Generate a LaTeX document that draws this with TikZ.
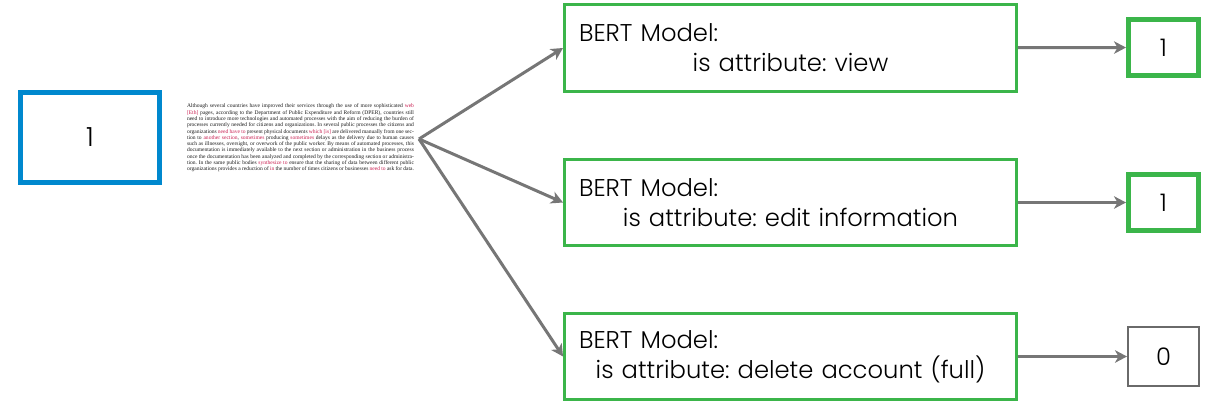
\documentclass[tikz,border=0pt]{standalone}
\usepackage{fontspec}
\setmainfont{Poppins}[UprightFont=* Light]
\newfontfamily\docfont{Liberation Serif}
\usetikzlibrary{arrows.meta}
\frenchspacing

\definecolor{boxgreen}{RGB}{59,181,74}
\definecolor{boxblue}{RGB}{0,136,206}
\definecolor{arrowgray}{RGB}{118,118,118}
\definecolor{markred}{RGB}{200,30,80}
\newcommand{\revword}[1]{\textcolor{markred}{#1}}

\begin{document}
\begin{tikzpicture}[x=0.02cm, y=-0.02cm,
    bertbox/.style={draw=boxgreen, line width=0.06cm, minimum width=9.04cm, minimum height=1.74cm,
        text width=8.46cm, inner xsep=0.29cm, align=center, font=\fontsize{13.8}{17}\selectfont},
    inbox/.style={draw=boxblue, line width=0.1cm, minimum width=2.78cm, minimum height=1.8cm,
        font=\fontsize{15}{17}\selectfont},
    resbox/.style={draw=boxgreen, line width=0.1cm, minimum width=1.4cm, minimum height=1.12cm,
        font=\fontsize{13.8}{17}\selectfont},
    doctext/.style={text width=4.54cm, inner sep=0pt, align=justify, text=black!90,
        font=\docfont\fontsize{3.15}{3.58}\selectfont},
    conn/.style={draw=arrowgray, line width=0.06cm, -{Stealth[length=0.24cm, width=0.25cm, inset=0.07cm]}}]

    \useasboundingbox (0,0) rectangle (1205,405);

    \node[inbox] (input) at (90,137.5) {1};

    \node[doctext] (doc) at (300.5,138) {Although several countries have improved their services through the use of more sophisticated \revword{web [Eth]} pages, according to the Department of Public Expenditure and Reform (DPER), countries still need to introduce more technologies and automated processes with the aim of reducing the burden of processes currently needed for citizens and organizations. In several public processes the citizens and organizations \revword{need have to} present physical documents \revword{which [is]} are delivered manually from one section to \revword{another section}, \revword{sometimes} producing \revword{sometimes} delays as the delivery due to human causes such as illnesses, oversight, or overwork of the public worker. By means of automated processes, this documentation is immediately available to the next section or administration in the business process once the documentation has been analyzed and completed by the corresponding section or administration. In the same public bodies \revword{synthesize to} ensure that the sharing of data between different public organizations provides a reduction of \revword{in} the number of times citizens or businesses \revword{need to} ask for data.};

    \coordinate (fork) at (419,139);

    %%%%%%%%%%%%%%%%%%%%%%%%%%%%%%%%%%%%%%%%%%%%%%%%%%%%%%

    \node[bertbox] (view) at (790.5,48) {\makebox[\linewidth][l]{BERT Model:}\\ is attribute: view};
    \node[bertbox] (edit) at (790.5,202.5) {\makebox[\linewidth][l]{BERT Model:}\\ is attribute: edit information};
    \node[bertbox] (delete) at (790.5,356.5) {\makebox[\linewidth][l]{BERT Model:}\\ is attribute: delete account (full)};

    %%%%%%%%%%%%%%%%%%%%%%%%%%%%%%%%%%%%%%%%%%%%%%%%%%%%%%

    \node[resbox] (viewres) at (1163.5,47.5) {1};
    \node[resbox] (editres) at (1163.5,202.5) {1};
    \node[resbox, draw=arrowgray!90!black, line width=0.04cm, minimum width=1.42cm, minimum height=1.18cm] (deleteres) at (1163.5,356.5) {0};

    %%%%%%%%%%%%%%%%%%%%%%%%%%%%%%%%%%%%%%%%%%%%%%%%%%%%%%

    \draw[conn] (fork) -- (view.west);
    \draw[conn] (fork) -- (edit.west);
    \draw[conn] (fork) -- (delete.west);

    \draw[conn] (view) -- (viewres);
    \draw[conn] (edit) -- (editres);
    \draw[conn] (delete) -- (deleteres);
\end{tikzpicture}
\end{document}
